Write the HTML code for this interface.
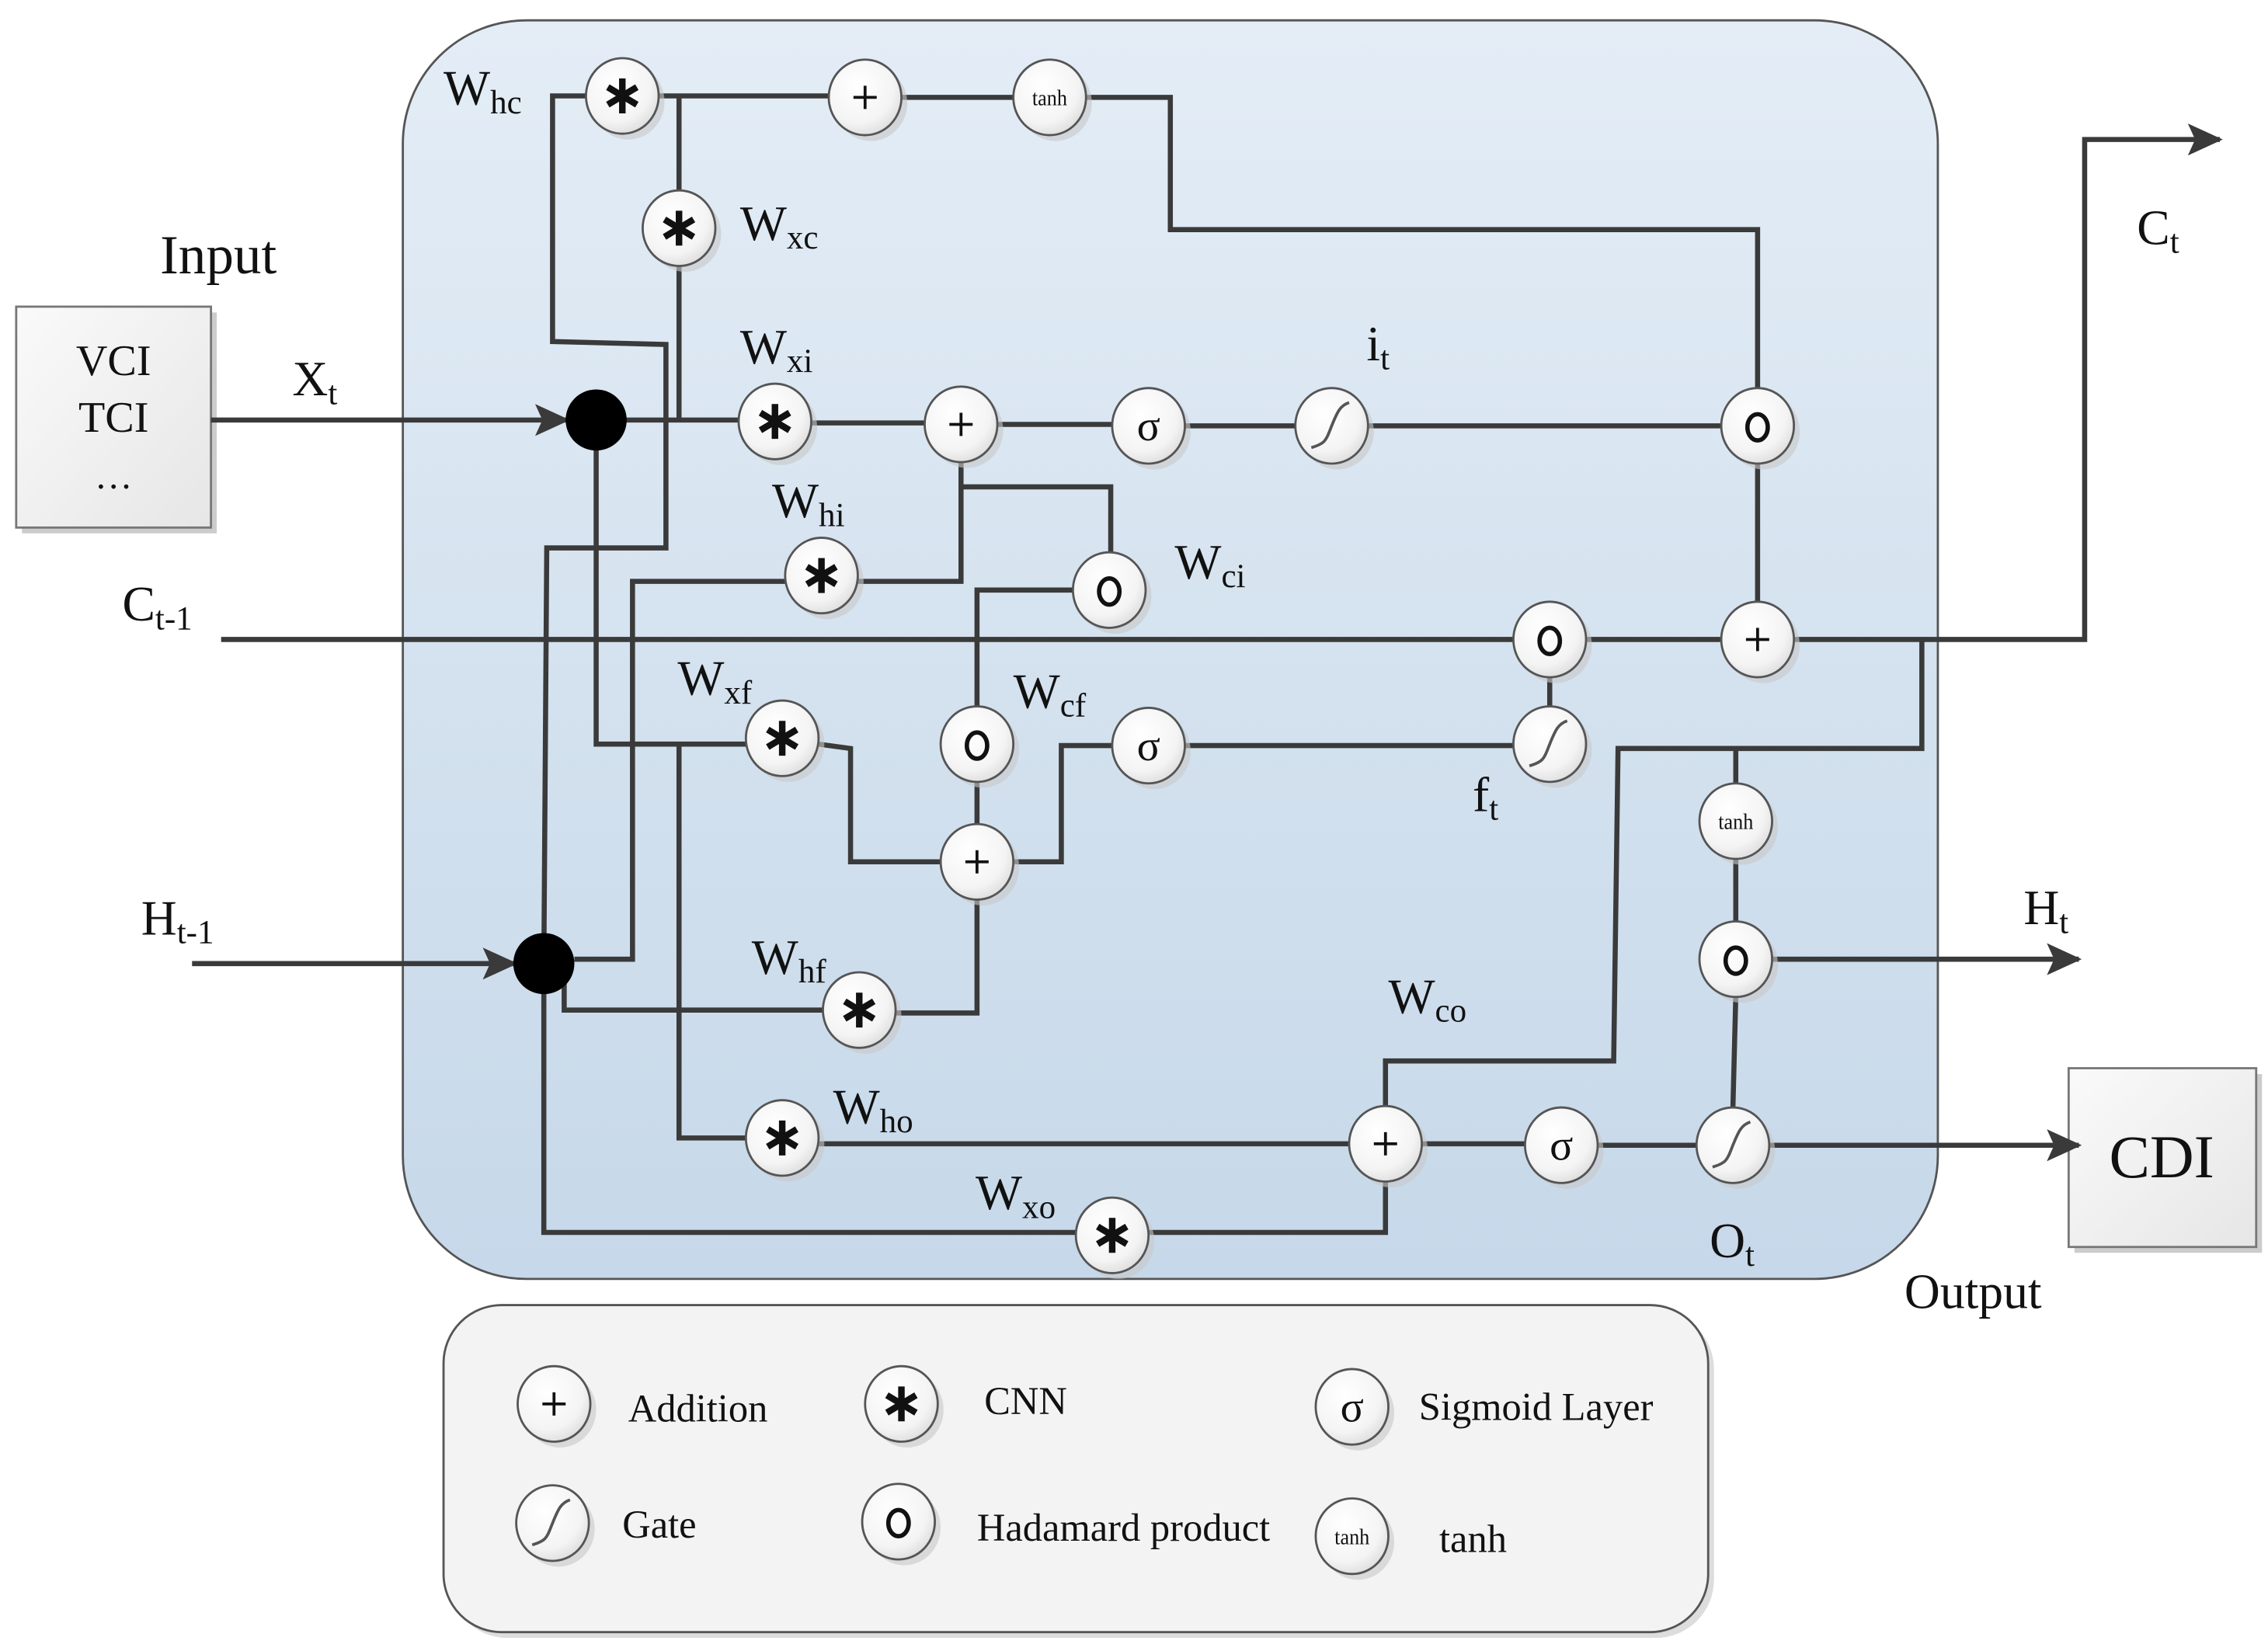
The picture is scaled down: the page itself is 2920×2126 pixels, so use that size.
<!DOCTYPE html>
<html><head><meta charset="utf-8"><style>
html,body{margin:0;padding:0;background:#fff}
svg{display:block}
text{font-family:"Liberation Serif",serif;fill:#111}
</style></head><body>
<svg width="2920" height="2126" viewBox="0 0 1560 1136" xmlns="http://www.w3.org/2000/svg">
<defs>
<linearGradient id="bg" x1="0" y1="0" x2="0" y2="1"><stop offset="0" stop-color="#e4edf6"/><stop offset="1" stop-color="#c6d8e9"/></linearGradient>
<radialGradient id="cg" cx="0.4" cy="0.35" r="0.7"><stop offset="0" stop-color="#ffffff"/><stop offset="0.7" stop-color="#f4f4f4"/><stop offset="1" stop-color="#dcdcdc"/></radialGradient>
<linearGradient id="bx" x1="0" y1="0" x2="1" y2="1"><stop offset="0" stop-color="#fafafa"/><stop offset="1" stop-color="#e6e6e6"/></linearGradient>
<marker id="ar" markerWidth="24" markerHeight="22" refX="22" refY="11" orient="auto" markerUnits="userSpaceOnUse"><path d="M0,0 L24,11 L0,22 L5,11 z" fill="#3a3a3a"/></marker>
<g id="c"><ellipse cx="4" cy="4" rx="25" ry="26" fill="#c8c8c8" opacity="0.6"/><ellipse cx="0" cy="0" rx="25" ry="26" fill="url(#cg)" stroke="#555" stroke-width="1.5"/></g>
<g id="star"><use href="#c"/><g stroke="#111" stroke-width="4.5" stroke-linecap="butt"><line x1="0" y1="-12" x2="0" y2="12"/><line x1="-10" y1="-6" x2="10" y2="6"/><line x1="-10" y1="6" x2="10" y2="-6"/></g></g>
<g id="plus"><use href="#c"/><g stroke="#111" stroke-width="2"><line x1="-8" y1="0" x2="8" y2="0"/><line x1="0" y1="-8" x2="0" y2="8"/></g></g>
<g id="had"><use href="#c"/><ellipse cx="0" cy="1" rx="7" ry="9" fill="none" stroke="#111" stroke-width="3"/></g>
<g id="gate"><use href="#c"/><path d="M-14,15 C-4,12 -4,10 0,0 C4,-10 6,-14 12,-16" fill="none" stroke="#555" stroke-width="2"/></g>
<g id="sig"><use href="#c"/><text x="0" y="10" text-anchor="middle" font-size="30">σ</text></g>
<g id="tanh"><use href="#c"/><text x="0" y="5" text-anchor="middle" font-size="14" transform="scale(1,1.1)">tanh</text></g>
</defs>

<rect x="277" y="14" width="1056" height="866" rx="85" fill="url(#bg)" stroke="#555" stroke-width="1.5"/>
<rect x="309" y="902" width="870" height="225" rx="40" fill="#ddd"/>
<rect x="305" y="898" width="870" height="225" rx="40" fill="#f3f3f3" stroke="#555" stroke-width="1.5"/>
<rect x="15" y="215" width="134" height="152" fill="#ccc"/>
<rect x="11" y="211" width="134" height="152" fill="url(#bx)" stroke="#777" stroke-width="1.5"/>
<rect x="1427" y="739" width="129" height="123" fill="#ccc"/>
<rect x="1423" y="735" width="129" height="123" fill="url(#bx)" stroke="#777" stroke-width="1.5"/>

<g fill="none" stroke="#3a3a3a" stroke-width="3.5">
<path d="M145,289 H390" marker-end="url(#ar)"/>
<path d="M132,663 H354" marker-end="url(#ar)"/>
<path d="M410,289 H508"/>
<path d="M558,291 H636 M686,292 H765 M815,293 H891 M941,293 H1184"/>
<path d="M403,66 H380 V235 L458,237 V377 H376 L374,663"/>
<path d="M453,66 H570 M620,67 H697 M747,67 H805 V158 H1209 V268"/>
<path d="M467,66 V132 M467,182 V289"/>
<path d="M1209,318 V415"/>
<path d="M152,440 H1041 M1091,440 H1184"/>
<path d="M1234,440 H1434 V96 H1527" marker-end="url(#ar)"/>
<path d="M1322,440 V515 H1113 L1110,730 H953 V762"/>
<path d="M1194,515 V540 M1194,590 V635 M1194,685 L1192,763"/>
<path d="M1219,660 H1430" marker-end="url(#ar)"/>
<path d="M1066,465 V487"/>
<path d="M590,400 H661 V317 M661,335 H764 V381"/>
<path d="M738,406 H672 V487 M672,537 V568"/>
<path d="M540,400 H435 V660 H395"/>
<path d="M410,289 V512 H513 M467,512 V783 H513"/>
<path d="M563,512 L585,515 V593 H647 M697,593 H730 V513 H765 M815,513 H1041"/>
<path d="M374,663 H388 V695 H566 M616,697 H672 V618"/>
<path d="M374,663 V848 H740 M790,848 H953 V812"/>
<path d="M563,787 L928,787 M978,787 H1049 M1099,788 H1167"/>
<path d="M1217,788 H1430" marker-end="url(#ar)"/>
</g>

<circle cx="410" cy="289" r="21" fill="#000"/>
<circle cx="374" cy="663" r="21" fill="#000"/>

<use href="#star" x="428" y="66"/>
<use href="#plus" x="595" y="67"/>
<use href="#tanh" x="722" y="67"/>
<use href="#star" x="467" y="157"/>
<use href="#star" x="533" y="290"/>
<use href="#plus" x="661" y="292"/>
<use href="#sig" x="790" y="293"/>
<use href="#gate" x="916" y="293"/>
<use href="#had" x="1209" y="293"/>
<use href="#star" x="565" y="396"/>
<use href="#had" x="763" y="406"/>
<use href="#had" x="1066" y="440"/>
<use href="#plus" x="1209" y="440"/>
<use href="#star" x="538" y="508"/>
<use href="#had" x="672" y="512"/>
<use href="#sig" x="790" y="513"/>
<use href="#gate" x="1066" y="512"/>
<use href="#plus" x="672" y="593"/>
<use href="#tanh" x="1194" y="565"/>
<use href="#had" x="1194" y="660"/>
<use href="#star" x="591" y="695"/>
<use href="#star" x="538" y="783"/>
<use href="#plus" x="953" y="787"/>
<use href="#sig" x="1074" y="788"/>
<use href="#gate" x="1192" y="788"/>
<use href="#star" x="765" y="850"/>

<g font-size="34">
<text x="305" y="72">W<tspan font-size="23" dy="6">hc</tspan></text>
<text x="509" y="165">W<tspan font-size="23" dy="6">xc</tspan></text>
<text x="509" y="250">W<tspan font-size="23" dy="6">xi</tspan></text>
<text x="940" y="248">i<tspan font-size="23" dy="6">t</tspan></text>
<text x="531" y="356">W<tspan font-size="23" dy="6">hi</tspan></text>
<text x="808" y="398">W<tspan font-size="23" dy="6">ci</tspan></text>
<text x="466" y="478">W<tspan font-size="23" dy="6">xf</tspan></text>
<text x="697" y="487">W<tspan font-size="23" dy="6">cf</tspan></text>
<text x="1013" y="558">f<tspan font-size="23" dy="6">t</tspan></text>
<text x="517" y="670">W<tspan font-size="23" dy="6">hf</tspan></text>
<text x="955" y="697">W<tspan font-size="23" dy="6">co</tspan></text>
<text x="573" y="773">W<tspan font-size="23" dy="6">ho</tspan></text>
<text x="671" y="832">W<tspan font-size="23" dy="6">xo</tspan></text>
<text x="1176" y="865">O<tspan font-size="23" dy="6">t</tspan></text>
<text x="1470" y="168">C<tspan font-size="23" dy="6">t</tspan></text>
<text x="1392" y="636">H<tspan font-size="23" dy="6">t</tspan></text>
<text x="97" y="643">H<tspan font-size="23" dy="6">t-1</tspan></text>
<text x="84" y="427">C<tspan font-size="23" dy="6">t-1</tspan></text>
<text x="201" y="272">X<tspan font-size="23" dy="6">t</tspan></text>
<text x="110" y="188" font-size="38">Input</text>
<text x="1310" y="900">Output</text>
<text x="78" y="258" text-anchor="middle" font-size="30">VCI</text>
<text x="78" y="297" text-anchor="middle" font-size="30">TCI</text>
<text x="78" y="336" text-anchor="middle" font-size="26">…</text>
<text x="1487" y="810" text-anchor="middle" font-size="42">CDI</text>
</g>

<use href="#plus" x="381" y="966"/>
<use href="#star" x="620" y="966"/>
<use href="#sig" x="930" y="968"/>
<use href="#gate" x="380" y="1048"/>
<use href="#had" x="618" y="1047"/>
<use href="#tanh" x="930" y="1057"/>
<g font-size="27">
<text x="432" y="978">Addition</text>
<text x="677" y="973">CNN</text>
<text x="976" y="977">Sigmoid Layer</text>
<text x="428" y="1058">Gate</text>
<text x="672" y="1060">Hadamard product</text>
<text x="990" y="1068">tanh</text>
</g>
</svg>
</body></html>
